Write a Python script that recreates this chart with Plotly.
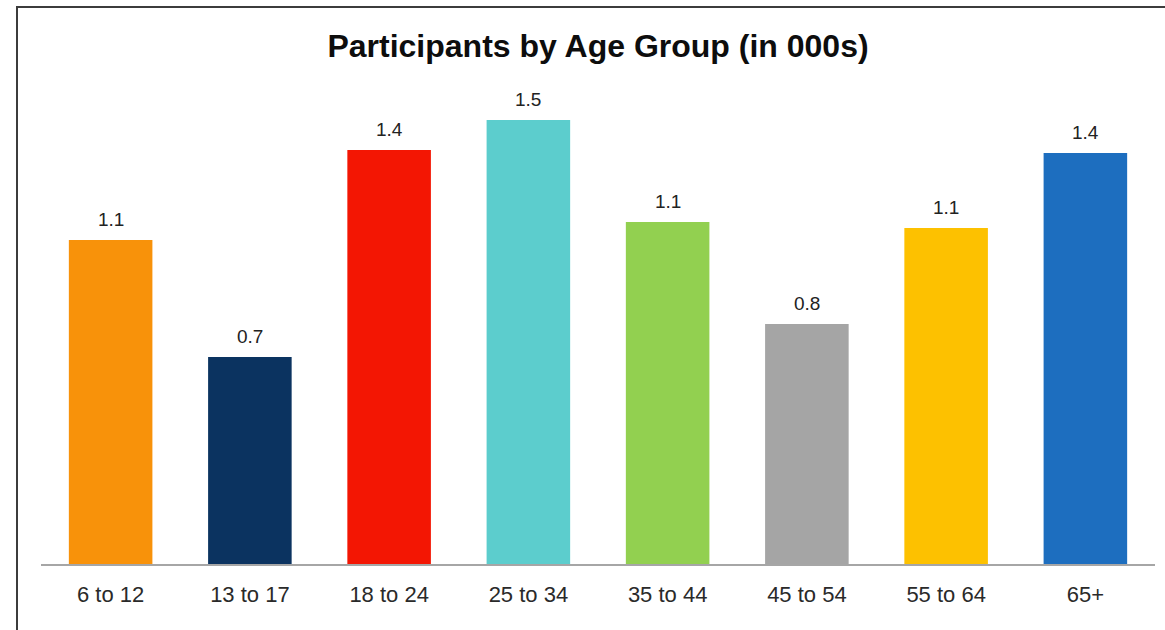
import plotly.graph_objects as go

# Participants (thousands) by age bracket
age_groups = ["6 to 12", "13 to 17", "18 to 24", "25 to 34",
              "35 to 44", "45 to 54", "55 to 64", "65+"]
participants = [1.08, 0.69, 1.38, 1.48, 1.14, 0.80, 1.12, 1.37]
bar_colors = ["#F8920A", "#0B3360", "#F31603", "#5CCDCD",
              "#92D050", "#A5A5A5", "#FDC100", "#1D6EBF"]

W, H = 1165, 630
L, R, T, B = 41, 10, 84, 66
y_max = 1.6
FONT = "Liberation Sans, Arial, sans-serif"

fig = go.Figure(
    go.Bar(
        x=age_groups,
        y=participants,
        marker=dict(color=bar_colors, line=dict(width=0)),
        hoverinfo="x+y",
    )
)

# value labels above each bar
for g, v in zip(age_groups, participants):
    fig.add_annotation(
        x=g, y=v, text=f"{v:.1f}", showarrow=False,
        yanchor="bottom", yshift=8,
        font=dict(family=FONT, size=19, color="#222222"),
    )

# outer frame (left and top edges visible)
pw, ph = W - L - R, H - T - B
fig.add_shape(
    type="rect", xref="paper", yref="paper",
    x0=(17 - L) / pw, x1=(1180 - L) / pw,
    y0=(H - B - 650) / ph, y1=(H - B - 7) / ph,
    line=dict(color="#3c3c3c", width=2), fillcolor="rgba(0,0,0,0)",
    layer="above",
)

fig.update_layout(
    width=W, height=H,
    margin=dict(l=L, r=R, t=T, b=B),
    paper_bgcolor="white", plot_bgcolor="white",
    bargap=0.4,
    showlegend=False,
    title=dict(
        text="<b>Participants by Age Group (in 000s)</b>",
        x=(L + pw / 2) / W, xanchor="center",
        y=1 - 46 / H, yanchor="middle", yref="container",
        font=dict(family=FONT, size=32, color="#0d0d0d"),
    ),
    xaxis=dict(
        showline=True, linecolor="#A6A6A6", linewidth=2,
        showgrid=False, ticks="", zeroline=False,
        tickfont=dict(family=FONT, size=22, color="#2a2a2a"),
        ticklabelstandoff=10,
    ),
    yaxis=dict(
        range=[0, y_max], visible=False, showgrid=False, zeroline=False,
    ),
)

fig.write_html("out.html")
